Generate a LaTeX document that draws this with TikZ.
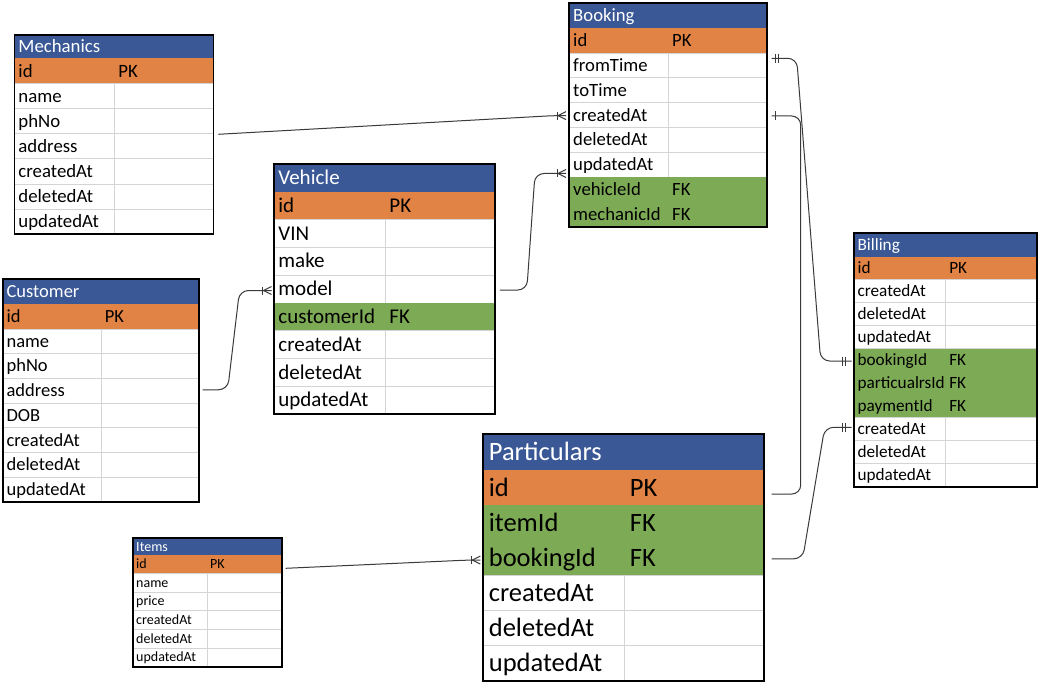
\documentclass[tikz,border=0pt]{standalone}
\usepackage{fontspec}
\setmainfont{Carlito}
\usetikzlibrary{calc}
\definecolor{hdrblue}{HTML}{3A5896}
\definecolor{pkorange}{HTML}{E08344}
\definecolor{fkgreen}{HTML}{7DAA55}
\definecolor{gridgray}{HTML}{D4D4D4}
\definecolor{linkgray}{HTML}{3A3A3A}
\tikzset{
  ertext/.style={anchor=base west, inner sep=0pt, outer sep=0pt},
  rowbox/.style={anchor=north west, inner sep=0pt, outer sep=0pt, draw=none},
  gridline/.style={draw=gridgray, line width=0.8pt},
  tableframe/.style={draw=black, line width=1.8pt},
  link/.style={draw=linkgray, line width=1pt, rounded corners=9pt},
  tick/.style={draw=linkgray, line width=1pt},
}
\def\ertW{white}
% #1 name #2 left #3 top #4 width #5 divider offset #6 header h #7 row h #8 font size #9 title
\newcommand\ertable[9]{%
  \def\ertfs{\fontsize{#8}{#8}\selectfont}%
  \fill[hdrblue] (#2,#3) rectangle ++(#4,#6);
  \node[ertext, text=white, font=\ertfs] (#1-t) at ({#2+0.21*#8},{#3+#6/2+0.32*#8}) {#9};
  \foreach [count=\i] \a/\b/\c in \ertrows {%
    \pgfmathsetmacro\yt{#3+#6+(\i-1)*#7}%
    \node[rowbox, minimum width=#4, minimum height=#7, fill=\c] (#1-r\i) at (#2,\yt) {};
    \edef\ertc{\c}%
    \ifx\ertc\ertW
      \draw[gridline] (#1-r\i.north west) rectangle (#1-r\i.south east);
      \draw[gridline] ([xshift=#5]#1-r\i.north west) -- ([xshift=#5]#1-r\i.south west);
    \fi
    \node[ertext, font=\ertfs] (#1-a\i) at ({#2+0.21*#8},{\yt+#7/2+0.32*#8}) {\a};
    \node[ertext, font=\ertfs] (#1-b\i) at ({#2+#5+0.21*#8},{\yt+#7/2+0.32*#8}) {\b};
    \xdef\ertn{\i}%
  }
  \draw[tableframe] (#2,#3) rectangle ++(#4,{#6+\ertn*#7});
}
\newcommand\crowfoot[1]{%
  \draw[tick] ($(#1)+(-9,-4)$) -- ($(#1)+(-9,4)$);
  \draw[tick] ($(#1)+(-8,0)$) -- ($(#1)+(0,-4)$) ($(#1)+(-8,0)$) -- ($(#1)+(0,4)$);
}
\newcommand\erbar[2]{\draw[tick] ($(#1)+(#2,-4.5)$) -- ($(#1)+(#2,4.5)$);}
\begin{document}
\begin{tikzpicture}[x=1pt,y=-1pt]
\useasboundingbox (0,0) rectangle (1042,690);
\fill[white] (0,0) rectangle (1042,690);

\def\ertrows{id/PK/pkorange,name//white,phNo//white,address//white,createdAt//white,deletedAt//white,updatedAt//white}
\ertable{mech}{14.5}{35}{199}{100}{23.5}{25.1}{18.8}{Mechanics}

\def\ertrows{id/PK/pkorange,fromTime//white,toTime//white,createdAt//white,deletedAt//white,updatedAt//white,vehicleId/FK/fkgreen,mechanicId/FK/fkgreen}
\ertable{book}{569.3}{3}{198}{99}{25.3}{24.8}{18.7}{Booking}

\def\ertrows{id/PK/pkorange,VIN//white,make//white,model//white,customerId/FK/fkgreen,createdAt//white,deletedAt//white,updatedAt//white}
\ertable{veh}{274}{164}{221.3}{111}{27.7}{27.8}{21}{Vehicle}

\def\ertrows{id/PK/pkorange,name//white,phNo//white,address//white,DOB//white,createdAt//white,deletedAt//white,updatedAt//white}
\ertable{cust}{2.7}{279}{196.6}{98.3}{25.3}{24.7}{18.5}{Customer}

\def\ertrows{id/PK/pkorange,createdAt//white,deletedAt//white,updatedAt//white,bookingId/FK/fkgreen,particualrsId/FK/fkgreen,paymentId/FK/fkgreen,createdAt//white,deletedAt//white,updatedAt//white}
\ertable{bill}{854}{233.3}{183.3}{91.7}{23.4}{23}{17.2}{Billing}

\def\ertrows{id/PK/pkorange,name//white,price//white,createdAt//white,deletedAt//white,updatedAt//white}
\ertable{items}{133.3}{538.3}{149}{74}{16.7}{18.6}{14}{Items}

\def\ertrows{id/PK/pkorange,itemId/FK/fkgreen,bookingId/FK/fkgreen,createdAt//white,deletedAt//white,updatedAt//white}
\ertable{part}{483.3}{434}{280.7}{141}{36}{35.1}{26.5}{Particulars}

% Mechanics -> Booking
\coordinate (m2b-s) at ($(mech-r4.north east)+(4.8,0.5)$);
\coordinate (m2b-e) at ($(book-r4.west)+(-3.3,0.5)$);
\draw[link] (m2b-s) -- ($(m2b-e)+(-12,0)$) -- (m2b-e);
\crowfoot{m2b-e}

% Vehicle -> Booking
\coordinate (v2b-s) at ($(veh-r4.east)+(4.5,1)$);
\coordinate (v2b-e) at ($(book-r6.west)+(-3.3,8.8)$);
\draw[link] (v2b-s) -- ++(27,0) -- ($(v2b-e)+(-31,0)$) -- (v2b-e);
\crowfoot{v2b-e}

% Customer -> Vehicle
\coordinate (c2v-s) at ($(cust-r4.east)+(3.4,-1)$);
\coordinate (c2v-e) at ($(veh-r4.west)+(-2.5,1.5)$);
\draw[link] (c2v-s) -- ++(25,0) -- ($(c2v-e)+(-32,0)$) -- (c2v-e);
\crowfoot{c2v-e}

% Booking -> Billing
\coordinate (b2bl-s) at ($(book-r2.east)+(4.4,-7.2)$);
\coordinate (b2bl-e) at ($(bill-r5.west)+(-2.3,0.8)$);
\draw[link] (b2bl-s) -- ++(25,0) -- ($(b2bl-e)+(-31,0)$) -- (b2bl-e);
\erbar{b2bl-s}{3.3}
\erbar{b2bl-s}{6.6}
\erbar{b2bl-e}{-9.5}
\erbar{b2bl-e}{-6.3}

% Booking -> Particulars
\coordinate (b2p-s) at ($(book-r4.east)+(4.4,0.9)$);
\coordinate (b2p-e) at ($(part-r1.east)+(7.7,6.5)$);
\draw[link] (b2p-s) -- ++(29,0) |- (b2p-e);
\erbar{b2p-s}{3.3}

% Billing -> Particulars
\coordinate (bl2p-s) at ($(bill-r8.west)+(-2.3,-1.9)$);
\coordinate (bl2p-e) at ($(part-r3.east)+(7.7,1.1)$);
\draw[link] (bl2p-s) -- ++(-27,0) -- ($(bl2p-e)+(31,0)$) -- (bl2p-e);
\erbar{bl2p-s}{-9.5}
\erbar{bl2p-s}{-6.3}

% Items -> Particulars
\coordinate (i2p-s) at ($(items-r1.east)+(3.4,4)$);
\coordinate (i2p-e) at ($(part-r3.west)+(-3,2.3)$);
\draw[link] (i2p-s) -- ($(i2p-e)+(-12,0)$) -- (i2p-e);
\crowfoot{i2p-e}
\end{tikzpicture}
\end{document}
